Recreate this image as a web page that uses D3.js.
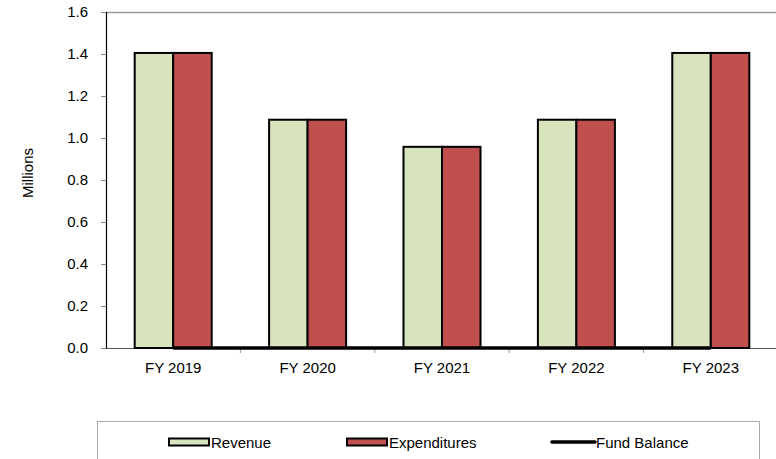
<!DOCTYPE html>
<html>
<head>
<meta charset="utf-8">
<script src="https://cdn.jsdelivr.net/npm/d3@7/dist/d3.min.js"></script>
<style>
  html, body { margin: 0; padding: 0; background: #fff; }
  svg { display: block; font-family: "Liberation Sans", Arial, sans-serif; }
</style>
</head>
<body>
<svg id="chart" width="776" height="459"></svg>
<script>
// Fiscal years and values in millions
const categories = ["FY 2019", "FY 2020", "FY 2021", "FY 2022", "FY 2023"];
const revenue = [1.405, 1.087, 0.958, 1.087, 1.405];
const expenditures = [1.405, 1.087, 0.958, 1.087, 1.405];
const fundBalance = [0, 0, 0, 0, 0];
const yTicks = [0, 0.2, 0.4, 0.6, 0.8, 1.0, 1.2, 1.4, 1.6];

const svg = d3.select("#chart");
const margin = { left: 106, top: 12, right: 776 - 778, bottom: 459 - 348 };
const plotW = 776 - margin.left - margin.right;
const plotH = 459 - margin.top - margin.bottom;

const x = d3.scaleBand().domain(categories).range([0, plotW]).paddingInner(0).paddingOuter(0);
const x1 = d3.scaleBand().domain(["rev", "exp"]).range([0, x.bandwidth()]).paddingInner(0).paddingOuter(0.745);
const y = d3.scaleLinear().domain([0, 1.6]).range([plotH, 0]);

const g = svg.append("g").attr("transform", `translate(${margin.left},${margin.top})`);

// Plot frame top edge
g.append("line")
  .attr("x1", 0).attr("x2", plotW).attr("y1", 0.5).attr("y2", 0.5)
  .attr("stroke", "#999").attr("stroke-width", 1.5);

// Y axis
const yAxis = g.append("g")
  .call(d3.axisLeft(y).tickValues(yTicks).tickFormat(d3.format(".1f")).tickSize(5).tickPadding(13));
yAxis.select(".domain").attr("stroke", "#000").attr("stroke-width", 1.2);
yAxis.selectAll(".tick line").attr("stroke", "#888");
yAxis.selectAll(".tick text").attr("font-size", 15).attr("fill", "#000");

// X axis
const xAxis = g.append("g")
  .attr("transform", `translate(0,${plotH})`)
  .call(d3.axisBottom(x).tickSize(0).tickPadding(14));
xAxis.select(".domain").attr("stroke", "#555").attr("stroke-width", 1);
xAxis.selectAll(".tick text").attr("font-size", 15).attr("fill", "#000");
// Band boundary tick marks
g.append("g").selectAll("line")
  .data(categories)
  .join("line")
  .attr("x1", d => x(d) + x.bandwidth()).attr("x2", d => x(d) + x.bandwidth())
  .attr("y1", plotH).attr("y2", plotH + 5)
  .attr("stroke", "#999");

// Bars
const groups = g.append("g").selectAll("g")
  .data(categories.map((c, i) => ({ c, rev: revenue[i], exp: expenditures[i] })))
  .join("g")
  .attr("transform", d => `translate(${x(d.c)},0)`);

groups.append("rect")
  .attr("x", x1("rev")).attr("width", x1.bandwidth())
  .attr("y", d => y(d.rev)).attr("height", d => plotH - y(d.rev))
  .attr("fill", "#d7e4bd").attr("stroke", "#000").attr("stroke-width", 2);

groups.append("rect")
  .attr("x", x1("exp")).attr("width", x1.bandwidth())
  .attr("y", d => y(d.exp)).attr("height", d => plotH - y(d.exp))
  .attr("fill", "#c0504d").attr("stroke", "#000").attr("stroke-width", 2);

// Fund balance line
const line = d3.line()
  .x((d, i) => x(categories[i]) + x.bandwidth() / 2)
  .y(d => y(d));
g.append("path")
  .datum(fundBalance)
  .attr("d", line)
  .attr("fill", "none").attr("stroke", "#000").attr("stroke-width", 3.5);

// Y axis title
svg.append("text")
  .attr("transform", `translate(33,173) rotate(-90)`)
  .attr("text-anchor", "middle")
  .attr("font-size", 15)
  .attr("fill", "#000")
  .text("Millions");

// Legend
const legend = svg.append("g");
legend.append("rect")
  .attr("x", 97.5).attr("y", 421.5).attr("width", 662).attr("height", 60)
  .attr("fill", "#fff").attr("stroke", "#aaa").attr("stroke-width", 1);

const items = [
  { label: "Revenue", type: "rect", fill: "#d7e4bd", x: 169 },
  { label: "Expenditures", type: "rect", fill: "#c0504d", x: 347 },
  { label: "Fund Balance", type: "line", x: 552 }
];
items.forEach(it => {
  if (it.type === "rect") {
    legend.append("rect")
      .attr("x", it.x).attr("y", 438.5).attr("width", 40).attr("height", 7)
      .attr("fill", it.fill).attr("stroke", "#000").attr("stroke-width", 2);
  } else {
    legend.append("line")
      .attr("x1", it.x).attr("x2", it.x + 43).attr("y1", 442).attr("y2", 442)
      .attr("stroke", "#000").attr("stroke-width", 3.5).attr("stroke-linecap", "round");
  }
  legend.append("text")
    .attr("x", it.x + (it.type === "rect" ? 42 : 44)).attr("y", 447.5)
    .attr("font-size", 15).attr("fill", "#000")
    .text(it.label);
});
</script>
</body>
</html>
